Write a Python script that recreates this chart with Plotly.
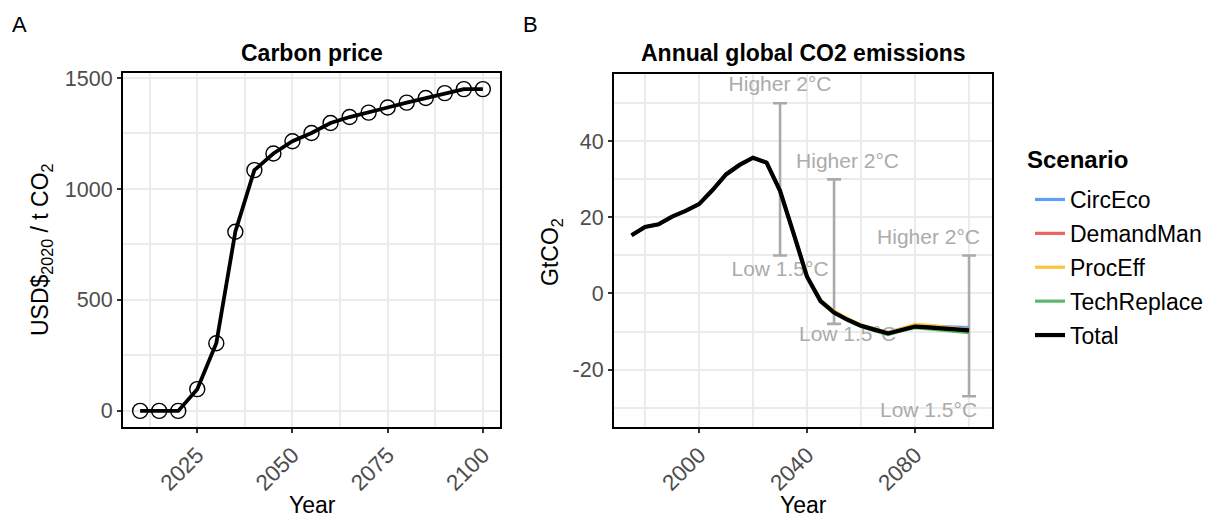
import plotly.graph_objects as go

# ---- Panel A: carbon price (USD2020 per t CO2) ----
price_years = [2010, 2015, 2020, 2025, 2030, 2035, 2040, 2045, 2050, 2055,
               2060, 2065, 2070, 2075, 2080, 2085, 2090, 2095, 2100]
price_values = [0, 0, 0, 98, 305, 807, 1085, 1160, 1215, 1252,
                1297, 1324, 1344, 1367, 1389, 1410, 1432, 1450, 1450]

# ---- Panel B: annual global CO2 emissions (GtCO2) ----
emis_years = [1975, 1980, 1985, 1990, 1995, 2000, 2005, 2010, 2015, 2020, 2025, 2030, 2035,
              2040, 2045, 2050, 2055, 2060, 2065, 2070, 2075, 2080, 2085, 2090, 2095, 2100]
circeco = [15.3, 17.5, 18.2, 20.2, 21.7, 23.5, 27.2, 31.3, 33.8, 35.7, 34.4, 27.0, 15.8,
           4.4, -1.9, -4.9, -6.8, -8.4, -9.4, -10.2, -9.3, -8.5, -8.6, -8.7, -8.9, -9.0]
demandman = [15.3, 17.5, 18.2, 20.2, 21.7, 23.5, 27.2, 31.3, 33.8, 35.7, 34.4, 27.0, 15.8,
             4.4, -2.0, -5.0, -6.9, -8.5, -9.6, -10.4, -9.5, -8.6, -8.8, -9.0, -9.3, -9.5]
proceff = [15.3, 17.5, 18.2, 20.2, 21.7, 23.5, 27.2, 31.3, 33.8, 35.7, 34.4, 27.0, 15.8,
           4.5, -1.8, -4.6, -6.6, -8.2, -9.3, -10.3, -9.2, -8.1, -8.4, -8.7, -9.1, -9.5]
techreplace = [15.3, 17.5, 18.2, 20.2, 21.7, 23.5, 27.2, 31.3, 33.8, 35.7, 34.4, 27.0, 15.8,
               4.3, -2.1, -5.2, -7.1, -8.7, -9.8, -10.8, -9.8, -9.0, -9.3, -9.6, -9.9, -10.3]
total = [15.3, 17.5, 18.2, 20.2, 21.7, 23.5, 27.2, 31.3, 33.8, 35.7, 34.4, 27.0, 15.8,
         4.4, -2.0, -5.0, -6.9, -8.5, -9.5, -10.5, -9.6, -8.7, -8.9, -9.1, -9.4, -9.7]

scenario_names = ["CircEco", "DemandMan", "ProcEff", "TechReplace", "Total"]
scenario_series = [circeco, demandman, proceff, techreplace, total]
scenario_colors = ["#619CFF", "#EE6360", "#FBC43C", "#5DB96A", "#000000"]

# Reference ranges (upper: higher 2°C, lower: low 1.5°C)
range_years = [2030, 2050, 2100]
range_upper = [50, 30, 10]
range_lower = [10, -8, -27]
label_x = [2030, 2055, 2085]
upper_label_y = [54.5, 34.5, 14.5]
lower_label_y = [6.0, -11.0, -31.0]
upper_label = "Higher 2°C"
lower_label = "Low 1.5°C"

# Tick labels
price_ticks = [0, 500, 1000, 1500]
emis_ticks = [-20, 0, 20, 40]
emis_ticktext = ["-20", "0", "20", "40"]

W, H = 1208, 519
FONT = "Liberation Sans, Arial, sans-serif"
GRID = "#EBEBEB"
TICKTXT = "#4D4D4D"
ANNOT_GREY = "#ABABAB"


def px_x(x):
    return x / W


def px_y(y):
    return 1 - y / H


fig = go.Figure()

# Panel A
fig.add_trace(go.Scatter(
    x=price_years, y=price_values, mode="lines",
    line=dict(color="black", width=3.8), showlegend=False,
    xaxis="x", yaxis="y", hoverinfo="skip"))
fig.add_trace(go.Scatter(
    x=price_years, y=price_values, mode="markers",
    marker=dict(symbol="circle-open", size=15, color="black", line=dict(width=1.4)),
    showlegend=False, xaxis="x", yaxis="y"))

# Panel B: reference ranges
fig.add_trace(go.Scatter(
    x=range_years, y=range_lower, mode="markers",
    marker=dict(size=1, opacity=0),
    error_y=dict(type="data", symmetric=False,
                 array=[u - l for u, l in zip(range_upper, range_lower)],
                 arrayminus=[0] * len(range_lower),
                 color="#AAAAAA", thickness=2.6, width=7),
    showlegend=False, xaxis="x2", yaxis="y2", hoverinfo="skip"))
fig.add_trace(go.Scatter(
    x=label_x, y=upper_label_y, mode="text",
    text=[upper_label] * len(label_x), cliponaxis=False,
    textfont=dict(family=FONT, size=21, color=ANNOT_GREY),
    showlegend=False, xaxis="x2", yaxis="y2", hoverinfo="skip"))
fig.add_trace(go.Scatter(
    x=label_x, y=lower_label_y, mode="text",
    text=[lower_label] * len(label_x), cliponaxis=False,
    textfont=dict(family=FONT, size=21, color=ANNOT_GREY),
    showlegend=False, xaxis="x2", yaxis="y2", hoverinfo="skip"))

# Panel B: scenario lines (Total drawn last, on top)
for name, series, color in zip(scenario_names, scenario_series, scenario_colors):
    fig.add_trace(go.Scatter(
        x=emis_years, y=series, mode="lines", name=name,
        line=dict(color=color, width=4.2 if name == "Total" else 3.2),
        legendgroup=name, xaxis="x2", yaxis="y2"))

axis_common = dict(
    showgrid=True, gridcolor=GRID, gridwidth=2,
    showline=True, linecolor="black", linewidth=2, mirror=True,
    ticks="outside", ticklen=4, tickwidth=1.5, tickcolor="#333333",
    tickfont=dict(family=FONT, size=21.5, color=TICKTXT),
    zeroline=False, automargin=False,
)
xtickfont = dict(family=FONT, size=22.5, color=TICKTXT)

fig.update_layout(
    width=W, height=H,
    margin=dict(l=0, r=0, t=0, b=0),
    paper_bgcolor="white", plot_bgcolor="white",
    font=dict(family=FONT, color="black"),
    xaxis=dict(**{**axis_common, "tickfont": xtickfont},
               domain=[px_x(123), px_x(500)], anchor="y",
               range=[2005.5, 2104.5], tickmode="linear", tick0=2025, dtick=25,
               tickangle=-45,
               minor=dict(showgrid=True, gridcolor=GRID, gridwidth=1.5,
                          tickmode="linear", tick0=2000, dtick=12.5)),
    yaxis=dict(**axis_common, domain=[px_y(427), px_y(73)], anchor="x",
               range=[-72.5, 1522.5], tickmode="array", tickvals=price_ticks,
               minor=dict(showgrid=True, gridcolor=GRID, gridwidth=1.5,
                          tickmode="linear", tick0=0, dtick=250)),
    xaxis2=dict(**{**axis_common, "tickfont": xtickfont},
                domain=[px_x(614), px_x(992)], anchor="y2",
                range=[1968.5, 2108.5], tickmode="linear", tick0=2000, dtick=40,
                tickangle=-45,
                minor=dict(showgrid=True, gridcolor=GRID, gridwidth=1.5,
                           tickmode="linear", tick0=1980, dtick=20)),
    yaxis2=dict(**axis_common, domain=[px_y(427), px_y(74)], anchor="x2",
                range=[-35.1, 57.7], tickmode="array", tickvals=emis_ticks,
                ticktext=emis_ticktext,
                minor=dict(showgrid=True, gridcolor=GRID, gridwidth=1.5,
                           tickmode="linear", tick0=-10, dtick=20)),
    legend=dict(
        x=px_x(1030), y=px_y(178), xanchor="left", yanchor="top",
        font=dict(family=FONT, size=23, color="black"),
        tracegroupgap=1, itemwidth=30, traceorder="grouped",
        bgcolor="rgba(0,0,0,0)",
    ),
)

annotations = [
    dict(text="A", x=px_x(19), y=px_y(25), font_size=22),
    dict(text="B", x=px_x(530), y=px_y(25), font_size=22),
    dict(text="<b>Carbon price</b>", x=px_x(312), y=px_y(53), font_size=23),
    dict(text="<b>Annual global CO2 emissions</b>", x=px_x(803), y=px_y(53), font_size=23),
    dict(text="Year", x=px_x(312), y=px_y(505), font_size=23),
    dict(text="Year", x=px_x(803), y=px_y(505), font_size=23),
    dict(text="USD$<sub>2020</sub> / t CO<sub>2</sub>", x=px_x(42), y=px_y(250),
         textangle=-90, font_size=23),
    dict(text="GtCO<sub>2</sub>", x=px_x(551), y=px_y(252), textangle=-90, font_size=23),
    dict(text="<b>Scenario</b>", x=px_x(1025), y=px_y(160), xanchor="left", font_size=24),
]
for a in annotations:
    size = a.pop("font_size")
    a.setdefault("xanchor", "center")
    fig.add_annotation(xref="paper", yref="paper", showarrow=False, yanchor="middle",
                       font=dict(family=FONT, size=size, color="black"), **a)

fig.write_html("out.html")
